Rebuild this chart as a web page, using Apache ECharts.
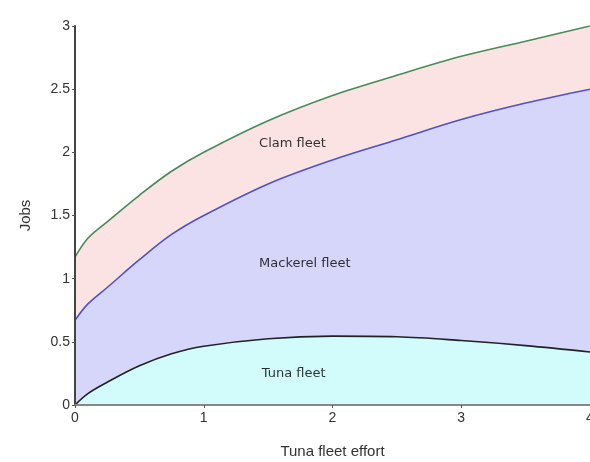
<!DOCTYPE html>
<html>
<head>
<meta charset="utf-8">
<script src="https://cdn.jsdelivr.net/npm/echarts@6/dist/echarts.min.js"></script>
<style>
html,body{margin:0;padding:0;background:#fff;overflow:hidden;}
#chart{width:590px;height:462px;}
</style>
</head>
<body>
<div id="chart"></div>
<script>
// Tuna fleet effort (x values)
const effort = [0, 0.1, 0.25, 0.5, 0.75, 1, 1.5, 2, 2.5, 3, 3.5, 4];
// Jobs by fleet (stacked components)
const tunaJobs = [0, 0.09, 0.18, 0.31, 0.405, 0.465, 0.525, 0.545, 0.54, 0.51, 0.47, 0.42];
const mackerelJobs = [0.67, 0.71, 0.75, 0.84, 0.945, 1.035, 1.225, 1.395, 1.56, 1.75, 1.92, 2.08];
const clamJobs = [0.50, 0.52, 0.52, 0.51, 0.50, 0.50, 0.50, 0.51, 0.51, 0.50, 0.49, 0.50];
// Region labels [name, x (left edge), y]
const regionLabels = [
  ['Clam fleet', 1.43, 2.07],
  ['Mackerel fleet', 1.43, 1.12],
  ['Tuna fleet', 1.45, 0.25]
];

// cumulative boundaries (stack computed here)
const tunaTop = tunaJobs.slice();
const mackerelTop = tunaJobs.map((v, i) => v + mackerelJobs[i]);
const clamTop = mackerelTop.map((v, i) => v + clamJobs[i]);
const pair = (vals) => effort.map((x, i) => [x, vals[i]]);

const chart = echarts.init(document.getElementById('chart'));
const fontFam = '"Liberation Sans", Arial, sans-serif';

function areaSeries(name, vals, lineColor, fillColor, z) {
  return {
    name: name,
    type: 'line',
    data: pair(vals),
    smooth: 0.35,
    symbol: 'none',
    lineStyle: { color: lineColor, width: 1.6 },
    areaStyle: { color: fillColor, opacity: 1, origin: 'start' },
    z: z
  };
}

chart.setOption({
  animation: false,
  grid: { left: 75, right: 0, top: 26, bottom: 57, containLabel: false, outerBoundsMode: 'none' },
  xAxis: {
    type: 'value',
    min: 0, max: 4, interval: 1,
    name: 'Tuna fleet effort',
    nameLocation: 'middle',
    nameGap: 39,
    nameTextStyle: { fontFamily: fontFam, fontSize: 15, color: '#333' },
    axisLine: { show: true, onZero: false, lineStyle: { color: '#888', width: 2 } },
    axisTick: { show: true, length: 3, lineStyle: { color: '#555' } },
    axisLabel: { fontFamily: fontFam, fontSize: 14, color: '#333', margin: 6 },
    splitLine: { show: false },
    z: 10
  },
  yAxis: {
    type: 'value',
    min: 0, max: 3, interval: 0.5,
    name: 'Jobs',
    nameLocation: 'middle',
    nameGap: 42,
    nameRotate: 90,
    nameTextStyle: { fontFamily: fontFam, fontSize: 15, color: '#333' },
    axisLine: { show: true, lineStyle: { color: '#444', width: 2 } },
    axisTick: { show: true, length: 3, lineStyle: { color: '#555' } },
    axisLabel: { fontFamily: fontFam, fontSize: 14, color: '#333', margin: 5 },
    splitLine: { show: false },
    z: 10
  },
  series: [
    areaSeries('Clam fleet', clamTop, '#4a8a5a', '#fbe3e4', 1),
    areaSeries('Mackerel fleet', mackerelTop, '#5050c8', '#d6d6fb', 2),
    areaSeries('Tuna fleet', tunaTop, '#222222', '#d2fcfc', 3),
    {
      type: 'scatter',
      symbolSize: 0,
      data: regionLabels.map(r => ({ value: [r[1], r[2]], name: r[0] })),
      label: {
        show: true,
        position: 'inside',
        align: 'left',
        formatter: p => p.name,
        fontFamily: '"DejaVu Sans", sans-serif',
        fontSize: 13,
        color: '#000'
      },
      z: 5
    }
  ]
});
</script>
</body>
</html>
